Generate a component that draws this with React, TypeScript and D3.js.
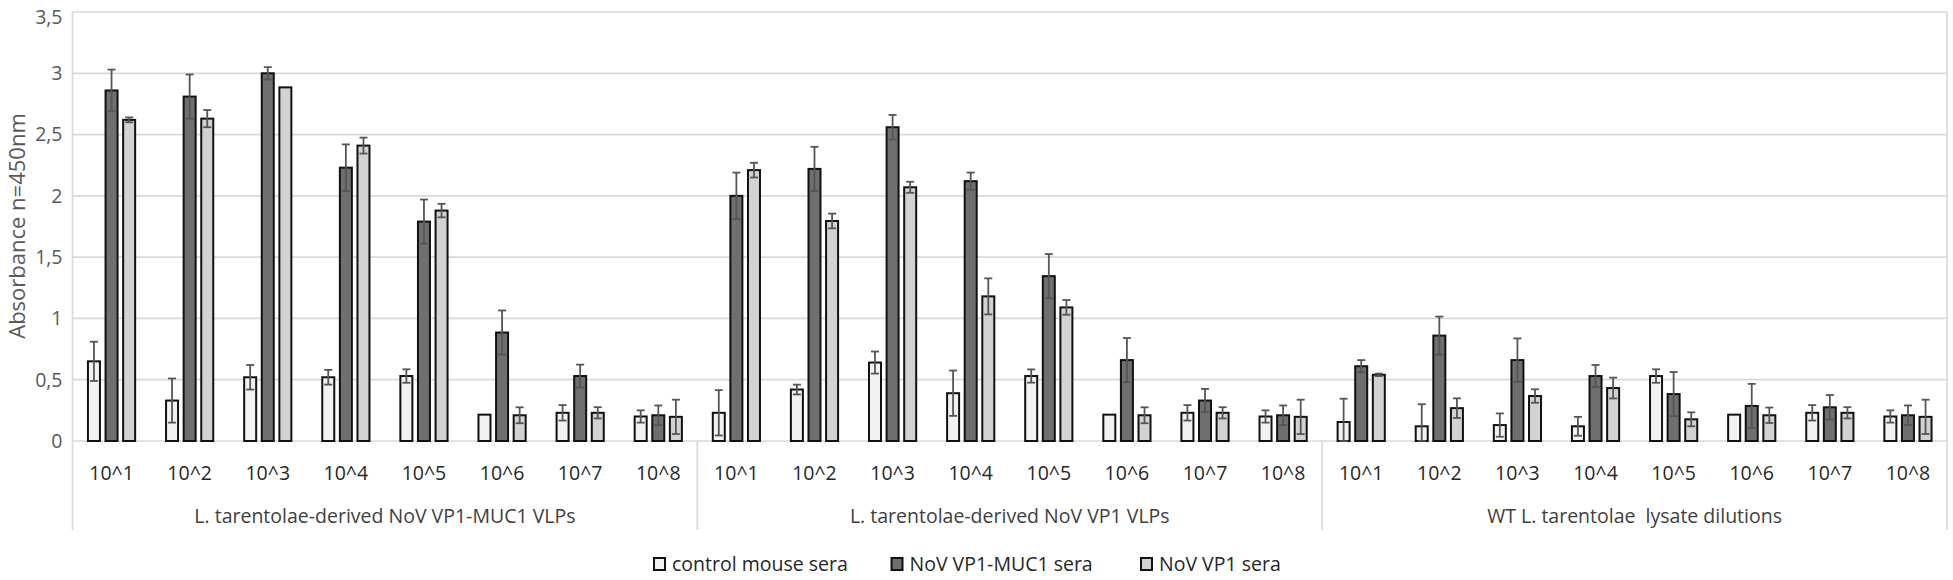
import React from "react";
import * as d3 from "d3";

const dilutions = ["10^1", "10^2", "10^3", "10^4", "10^5", "10^6", "10^7", "10^8"];
const groups = [
  "L. tarentolae-derived NoV VP1-MUC1 VLPs",
  "L. tarentolae-derived NoV VP1 VLPs",
  "WT L. tarentolae  lysate dilutions",
];
const seriesNames = ["control mouse sera", "NoV VP1-MUC1 sera", "NoV VP1 sera"];

// values per group (8 dilutions each), concatenated across groups
const controlVals = [
  0.65, 0.33, 0.52, 0.52, 0.53, 0.215, 0.23, 0.2,
  0.23, 0.42, 0.64, 0.39, 0.53, 0.215, 0.23, 0.2,
  0.155, 0.12, 0.13, 0.12, 0.53, 0.215, 0.23, 0.2,
];
const controlErr = [
  0.16, 0.18, 0.1, 0.06, 0.055, 0, 0.063, 0.05,
  0.185, 0.04, 0.09, 0.185, 0.054, 0, 0.063, 0.05,
  0.19, 0.18, 0.095, 0.077, 0.055, 0, 0.063, 0.05,
];
const muc1Vals = [
  2.86, 2.81, 3.0, 2.23, 1.79, 0.885, 0.53, 0.21,
  2.0, 2.22, 2.56, 2.12, 1.345, 0.66, 0.33, 0.21,
  0.61, 0.86, 0.66, 0.53, 0.383, 0.286, 0.275, 0.21,
];
const muc1Err = [
  0.17, 0.18, 0.05, 0.19, 0.18, 0.18, 0.093, 0.08,
  0.19, 0.18, 0.1, 0.07, 0.18, 0.18, 0.095, 0.08,
  0.05, 0.155, 0.177, 0.09, 0.18, 0.18, 0.1, 0.08,
];
const vp1Vals = [
  2.62, 2.63, 2.885, 2.41, 1.88, 0.21, 0.23, 0.197,
  2.21, 1.795, 2.07, 1.18, 1.09, 0.21, 0.23, 0.197,
  0.54, 0.268, 0.367, 0.432, 0.177, 0.21, 0.23, 0.197,
];
const vp1Err = [
  0.02, 0.07, 0, 0.065, 0.055, 0.065, 0.046, 0.14,
  0.06, 0.06, 0.045, 0.147, 0.06, 0.065, 0.046, 0.14,
  0.01, 0.08, 0.055, 0.085, 0.057, 0.063, 0.046, 0.14,
];
const yTicks = [0, 0.5, 1, 1.5, 2, 2.5, 3, 3.5];

const fills = ["#f2f2f2", "#6f6f6f", "#d2d2d2"];
const FONT = "'Open Sans', 'Liberation Sans', sans-serif";

export default function App() {
  const W = 1953, H = 580;
  const left = 72.5, right = 1947, top = 12, bottom = 441;
  const cats = d3.range(groups.length * dilutions.length).map(String);
  const x = d3.scaleBand<string>().domain(cats).range([left, right]).padding(0);
  const y = d3.scaleLinear().domain([0, 3.5]).range([bottom, top]);
  const innerW = 49.2;
  const xs = d3.scaleBand<string>().domain(["0", "1", "2"]).range([0, innerW]).paddingInner(0.2045);
  const series = [
    { v: controlVals, e: controlErr },
    { v: muc1Vals, e: muc1Err },
    { v: vp1Vals, e: vp1Err },
  ];
  const bw = xs.bandwidth();
  const groupW = x.bandwidth() * dilutions.length;
  const fmt = (t: number) => String(t).replace(".", ",");
  const legendX = [653, 890.5, 1140];

  return (
    <svg width={W} height={H} style={{ position: "absolute", left: 0, top: 0, background: "#fff" }} fontFamily={FONT}>
      <rect x={0} y={0} width={W} height={H} fill="#fff" />
      {yTicks.map((t) => (
        <g key={t}>
          <line x1={left} x2={right} y1={y(t)} y2={y(t)} stroke="#d9d9d9" strokeWidth={1.7} />
          <text x={62.5} y={Math.max(y(t), 17)} dy="0.35em" textAnchor="end" fontSize={19.5} fill="#595959">
            {fmt(t)}
          </text>
        </g>
      ))}
      <line x1={left} x2={left} y1={top} y2={530} stroke="#d9d9d9" strokeWidth={1.7} />
      <line x1={right} x2={right} y1={top} y2={530} stroke="#d9d9d9" strokeWidth={1.7} />
      {groups.map((g, gi) => {
        const gx = left + gi * groupW;
        return (
          <g key={g}>
            {gi > 0 && <line x1={gx} x2={gx} y1={bottom} y2={530} stroke="#d9d9d9" strokeWidth={1.7} />}
            <text x={gx + groupW / 2} y={516} dy="0.35em" textAnchor="middle" fontSize={19.5} fill="#404040" style={{ whiteSpace: "pre" }}>
              {g}
            </text>
          </g>
        );
      })}
      {cats.map((c, i) => (
        <text key={c} x={(x(c) as number) + x.bandwidth() / 2} y={473} dy="0.35em" textAnchor="middle" fontSize={19.5} fill="#262626">
          {dilutions[i % dilutions.length]}
        </text>
      ))}
      {cats.map((c, i) => {
        const cx0 = (x(c) as number) + x.bandwidth() / 2 - innerW / 2;
        return (
          <g key={"b" + c}>
            {series.map((s, si) => {
              const bx = cx0 + (xs(String(si)) as number);
              const v = s.v[i];
              const e = s.e[i];
              const mid = bx + bw / 2;
              return (
                <g key={si}>
                  <rect x={bx + 1} y={y(v)} width={bw - 2} height={bottom - y(v)} fill={fills[si]} stroke="#111" strokeWidth={2} />
                  {e > 0 && (
                    <g stroke="#555" strokeWidth={1.8}>
                      <line x1={mid} x2={mid} y1={y(v + e)} y2={y(Math.max(0, v - e))} />
                      <line x1={mid - 4} x2={mid + 4} y1={y(v + e)} y2={y(v + e)} />
                      <line x1={mid - 4} x2={mid + 4} y1={y(Math.max(0, v - e))} y2={y(Math.max(0, v - e))} />
                    </g>
                  )}
                </g>
              );
            })}
          </g>
        );
      })}
      <text transform={`translate(17,226) rotate(-90)`} textAnchor="middle" dy="0.35em" fontSize={22} fill="#595959">
        Absorbance n=450nm
      </text>
      {seriesNames.map((n, i) => (
        <g key={n}>
          <rect x={legendX[i] + 1} y={558} width={11} height={12} fill={fills[i]} stroke="#111" strokeWidth={2} />
          <text x={legendX[i] + 19} y={564} dy="0.35em" fontSize={19.5} fill="#262626">
            {n}
          </text>
        </g>
      ))}
    </svg>
  );
}
